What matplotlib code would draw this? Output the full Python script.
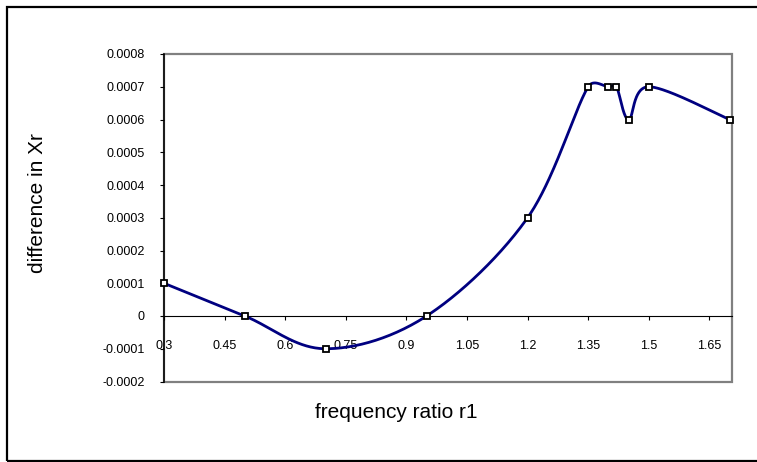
import numpy as np
import matplotlib
matplotlib.use("Agg")
import matplotlib.pyplot as plt
from matplotlib.patches import Rectangle

plt.rcParams['font.family'] = ['Liberation Sans', 'DejaVu Sans']

# Data: frequency ratio vs difference in Xr
freq_ratio = [0.3, 0.5, 0.7, 0.95, 1.2, 1.35, 1.4, 1.42, 1.45, 1.5, 1.7]
diff_xr = [0.0001, 0.0, -0.0001, 0.0, 0.0003, 0.0007, 0.0007, 0.0007, 0.0006, 0.0007, 0.0006]

x_ticks = [0.3, 0.45, 0.6, 0.75, 0.9, 1.05, 1.2, 1.35, 1.5, 1.65]
x_tick_labels = ["0.3", "0.45", "0.6", "0.75", "0.9", "1.05", "1.2", "1.35", "1.5", "1.65"]
y_ticks = [-0.0002, -0.0001, 0, 0.0001, 0.0002, 0.0003, 0.0004, 0.0005, 0.0006, 0.0007, 0.0008]
y_tick_labels = ["-0.0002", "-0.0001", "0", "0.0001", "0.0002", "0.0003", "0.0004",
                 "0.0005", "0.0006", "0.0007", "0.0008"]

W, H = 757, 462
fig = plt.figure(figsize=(W / 100, H / 100), dpi=100)
fig.patch.set_facecolor('white')

# plot area in pixel coordinates
left, right, top, bottom = 164, 732, 54, 381.5
ax = fig.add_axes([left / W, 1 - bottom / H, (right - left) / W, (bottom - top) / H])
ax.set_xlim(0.3, 1.706)
ax.set_ylim(-0.0002, 0.0008)

# spines: left axis black, x axis through zero, gray frame elsewhere
for s in ['top', 'right']:
    ax.spines[s].set_visible(False)
ax.spines['left'].set_color('black')
ax.spines['left'].set_linewidth(1.1)
ax.spines['left'].set_zorder(4)
ax.spines['bottom'].set_position(('data', 0))
ax.spines['bottom'].set_color('black')
ax.spines['bottom'].set_linewidth(0.8)
frame = Rectangle((0, 0), 1, 1, transform=ax.transAxes, fill=False,
                  edgecolor='#808080', linewidth=1.6, zorder=0.5, clip_on=False)
ax.add_patch(frame)

ax.set_xticks(x_ticks)
ax.set_xticklabels(x_tick_labels)
ax.set_yticks(y_ticks)
ax.set_yticklabels(y_tick_labels)
ax.tick_params(axis='x', direction='out', length=3, width=0.8, color='black',
               pad=14, labelsize=9)
ax.tick_params(axis='y', direction='out', length=3, width=0.8, color='black',
               pad=11, labelsize=9)


def limited(vec, limit):
    """Shorten a control-point offset so it never exceeds the given length."""
    length = np.linalg.norm(vec)
    if length > limit and length > 0:
        return vec * (limit / length)
    return vec


# smoothed line: cubic Bezier through the points, computed in display space
pts = ax.transData.transform(np.column_stack([freq_ratio, diff_xr]))
n = len(pts)
curve = []
for i in range(n - 1):
    p0 = pts[max(i - 1, 0)]
    p1 = pts[i]
    p2 = pts[i + 1]
    p3 = pts[min(i + 2, n - 1)]
    d1 = np.linalg.norm(p2 - p1)
    c1 = p1 + limited((p2 - p0) / 6.0, d1 / 2.0)
    c2 = p2 - limited((p3 - p1) / 6.0, d1 / 2.0)
    t = np.linspace(0, 1, 60)[:, None]
    seg = ((1 - t) ** 3) * p1 + 3 * ((1 - t) ** 2) * t * c1 + 3 * (1 - t) * t ** 2 * c2 + t ** 3 * p2
    curve.append(seg if i == 0 else seg[1:])
curve = np.vstack(curve)
curve_data = ax.transData.inverted().transform(curve)
ax.plot(curve_data[:, 0], curve_data[:, 1], color='#000080', linewidth=2.0,
        zorder=3, clip_on=False, solid_capstyle='round')
ax.plot(freq_ratio, diff_xr, linestyle='none', marker='s', markersize=4.8,
        markerfacecolor='white', markeredgecolor='black', markeredgewidth=1.3,
        zorder=5, clip_on=False)

fig.text(315 / W, 1 - 412 / H, "frequency ratio r1", fontsize=15,
         ha='left', va='center')
fig.text(37.5 / W, 1 - 203 / H, "difference in Xr", fontsize=15,
         rotation=90, ha='center', va='center')

# outer chart border
border = Rectangle((6.5 / W, 1 - 460.5 / H), (W + 10) / W, (460.5 - 6.5) / H,
                   transform=fig.transFigure, fill=False, edgecolor='black',
                   linewidth=1.6)
fig.add_artist(border)

fig.savefig("out.png", dpi=100)
